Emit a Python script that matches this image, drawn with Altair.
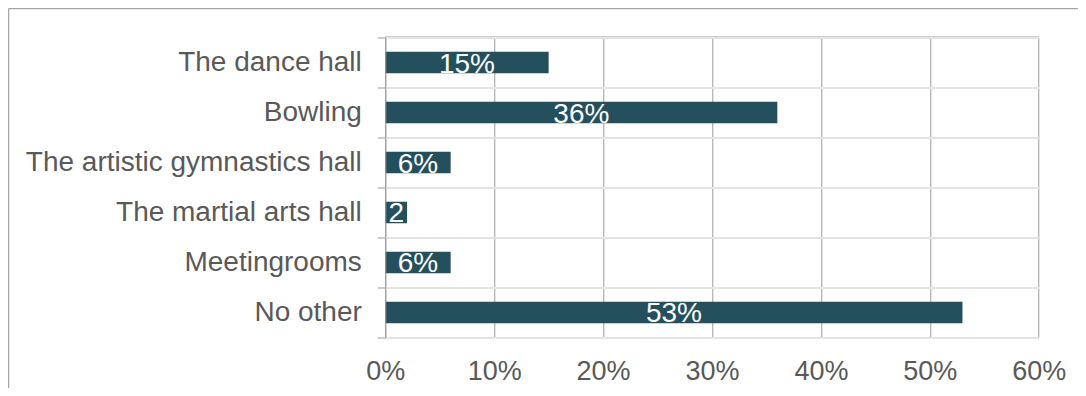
import altair as alt
import pandas as pd

categories = ["The dance hall", "Bowling", "The artistic gymnastics hall",
              "The martial arts hall", "Meetingrooms", "No other"]
values = [0.15, 0.36, 0.06, 0.02, 0.06, 0.53]
x_ticks = [0, 0.1, 0.2, 0.3, 0.4, 0.5, 0.6]

df = pd.DataFrame({"category": categories, "value": values})
one = pd.DataFrame({"a": [0]})

W = 653.4
H = 300
FONT = "Liberation Sans"
TXT = "#595959"
GRID = "#9c9c9c"
BAR = "#244F5D"

x_scale = alt.Scale(domain=[0, 0.6], nice=False, zero=True)
x_axis = alt.Axis(title=None, format="%", values=x_ticks, grid=True, gridColor=GRID,
                  gridWidth=1, ticks=False, domain=False, labelFont=FONT,
                  labelFontSize=27, labelColor=TXT, labelPadding=21,
                  labelFlush=False, labelAlign="center")
y_enc = alt.Y("category:N", sort=categories,
              scale=alt.Scale(paddingInner=0, paddingOuter=0),
              axis=alt.Axis(title=None, tickBand="extent", grid=True, gridColor="#e4e4e4",
                            gridWidth=2, tickSize=8, tickColor=GRID, tickWidth=1,
                            domainColor=GRID, domainWidth=1, labelFont=FONT,
                            labelFontSize=28, labelColor=TXT, labelPadding=16,
                            labelLimit=500, zindex=1))

bars = alt.Chart(df).mark_bar(color=BAR, height=alt.RelativeBandSize(0.43)).encode(
    x=alt.X("value:Q", scale=x_scale, axis=x_axis),
    y=y_enc,
)

text = alt.Chart(df).transform_calculate(mid="datum.value / 2").mark_text(
    color="white", font=FONT, fontSize=28, baseline="alphabetic", dy=10,
    limit=alt.expr("datum.value * 1089"), ellipsis="\u200b"
).encode(
    x=alt.X("mid:Q", scale=x_scale, axis=x_axis),
    y=y_enc,
    text=alt.Text("value:Q", format=".0%"),
)

top_line = alt.Chart(one).mark_rule(color=GRID, strokeWidth=2).encode(
    x=alt.value(0), x2=alt.value(W), y=alt.value(0))

frame_top = alt.Chart(one).mark_rule(color="#a6a6a6", strokeWidth=1.5).encode(
    x=alt.value(-376.8), x2=alt.value(W + 120), y=alt.value(-29))
frame_left = alt.Chart(one).mark_rule(color="#a6a6a6", strokeWidth=1.5).encode(
    x=alt.value(-376.8), y=alt.value(-29), y2=alt.value(H + 120))

chart = alt.layer(frame_top, frame_left, bars, text, top_line).properties(
    width=W, height=H,
    autosize=alt.AutoSizeParams(type="none"),
    padding={"left": 377.3, "top": 29.5, "right": 39, "bottom": 50.5},
).configure_view(stroke=None)

chart.save("out.html", embed_options={"renderer": "svg", "actions": False})
